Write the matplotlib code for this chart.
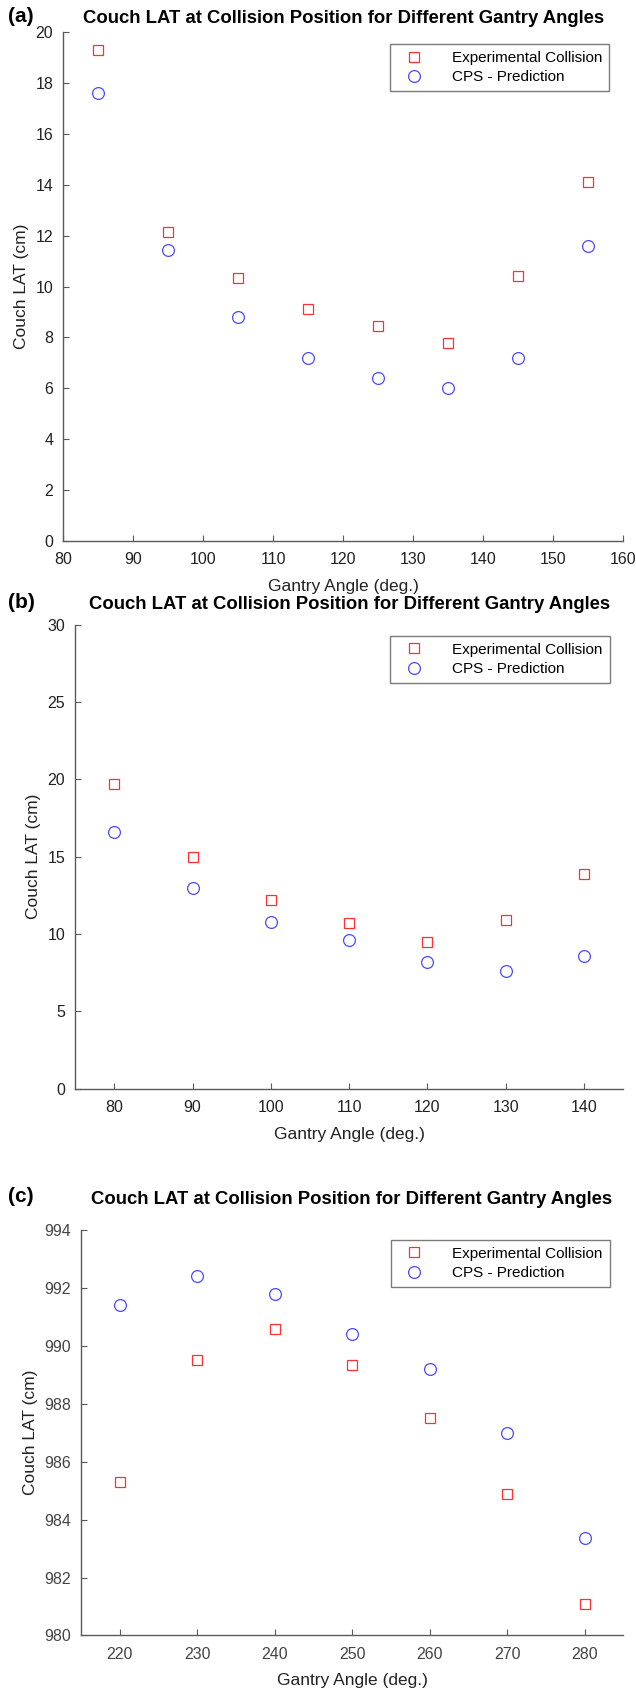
import matplotlib.pyplot as plt
import numpy as np

plt.rcParams['font.family'] = ['Liberation Sans', 'DejaVu Sans']

# panel (a)
angles_a = [85, 95, 105, 115, 125, 135, 145, 155]
exp_a = [19.3, 12.15, 10.35, 9.1, 8.45, 7.8, 10.4, 14.1]
cps_a = [17.6, 11.45, 8.8, 7.2, 6.4, 6.0, 7.2, 11.6]

# panel (b)
angles_b = [80, 90, 100, 110, 120, 130, 140]
exp_b = [19.7, 15.0, 12.2, 10.7, 9.5, 10.9, 13.9]
cps_b = [16.6, 13.0, 10.8, 9.6, 8.2, 7.6, 8.6]

# panel (c)
angles_c = [220, 230, 240, 250, 260, 270, 280]
exp_c = [985.3, 989.5, 990.6, 989.35, 987.5, 984.9, 981.1]
cps_c = [991.4, 992.4, 991.8, 990.4, 989.2, 987.0, 983.35]

title = 'Couch LAT at Collision Position for Different Gantry Angles'
gray = '#5a5a5a'

fig = plt.figure(figsize=(6.36, 16.93), dpi=100)

panels = [
    ('(a)', [0.099, 0.6804, 0.881, 0.3007], angles_a, exp_a, cps_a,
     (80, 160), np.arange(80, 161, 10), (0, 20), np.arange(0, 21, 2), 6.5, '#222222'),
    ('(b)', [0.118, 0.357, 0.862, 0.274], angles_b, exp_b, cps_b,
     (75, 145), np.arange(80, 141, 10), (0, 30), np.arange(0, 31, 5), 11, '#222222'),
    ('(c)', [0.127, 0.034, 0.853, 0.2394], angles_c, exp_c, cps_c,
     (215, 285), np.arange(220, 281, 10), (980, 994), np.arange(980, 995, 2), 19, '#444444'),
]

for lab, pos, x, e, c, xl, xt, yl, yt, tpad, tcol in panels:
    ax = fig.add_axes(pos)
    ax.plot(x, e, 's', mfc='none', mec='#ff3030', ms=7.5, mew=0.9, label='Experimental Collision')
    ax.plot(x, c, 'o', mfc='none', mec='#4a4aff', ms=8.5, mew=0.9, label='CPS - Prediction')
    ax.set_xlim(*xl)
    ax.set_ylim(*yl)
    ax.set_xticks(xt)
    ax.set_yticks(yt)
    for s in ['top', 'right']:
        ax.spines[s].set_visible(False)
    for s in ['left', 'bottom']:
        ax.spines[s].set_color(gray)
        ax.spines[s].set_linewidth(1.0)
    ax.tick_params(direction='in', length=4, colors=gray, labelcolor=tcol, labelsize=11.5)
    ax.tick_params(axis='x', pad=8)
    ax.tick_params(axis='y', pad=7)
    ax.set_xlabel('Gantry Angle (deg.)', fontsize=12.5, color='#222222', labelpad=8.5)
    ax.set_ylabel('Couch LAT (cm)', fontsize=12.5, color='#222222', labelpad=4.5)
    ax.set_title(title, fontsize=13.3, fontweight='bold', pad=tpad)
    leg = ax.legend(loc='upper right', bbox_to_anchor=(0.975, 0.976), borderaxespad=0,
                    fontsize=11, frameon=True, fancybox=False, edgecolor=gray,
                    handletextpad=1.4, borderpad=0.45, labelspacing=0.35, handlelength=2.2)
    leg.get_frame().set_linewidth(1.0)
    # panel letter sits level with the title
    ax.annotate(lab, xy=(0.012, 1.0), xycoords=(fig.transFigure, ax.transAxes),
                xytext=(0, tpad + 1), textcoords='offset points', va='baseline',
                fontsize=15, fontweight='bold')

fig.savefig('out.png', dpi=100)
